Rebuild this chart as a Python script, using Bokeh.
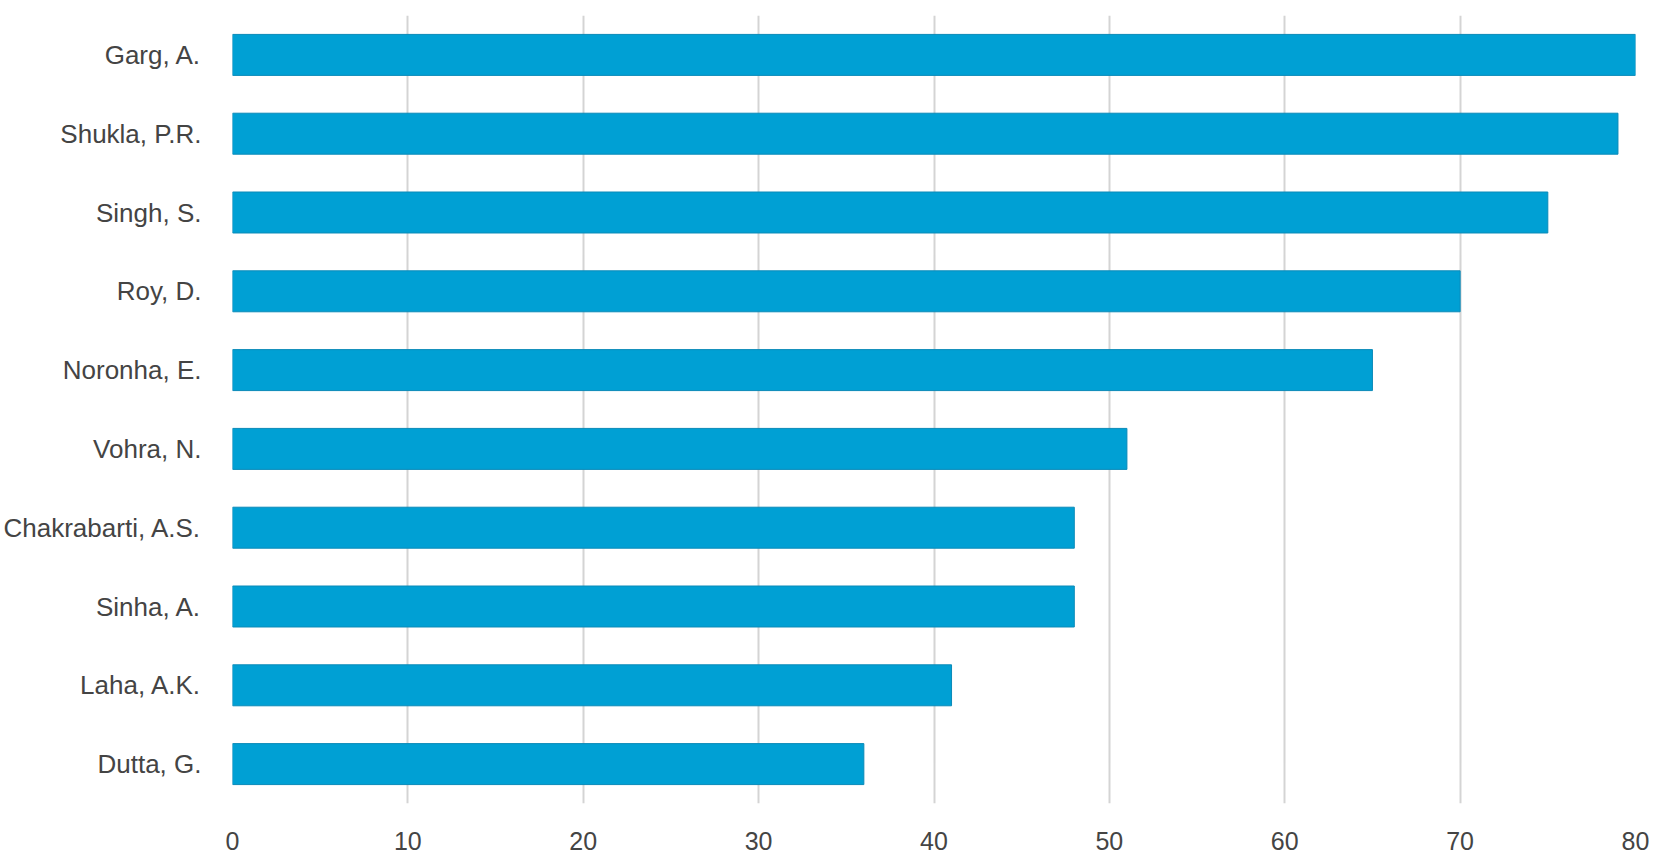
from bokeh.plotting import figure
from bokeh.models import ColumnDataSource, FixedTicker, Range1d
from bokeh.embed import file_html
from bokeh.resources import INLINE

authors = ["Garg, A.", "Shukla, P.R.", "Singh, S.", "Roy, D.", "Noronha, E.",
           "Vohra, N.", "Chakrabarti, A.S.", "Sinha, A.", "Laha, A.K.", "Dutta, G."]
counts = [80, 79, 75, 70, 65, 51, 48, 48, 41, 36]
x_ticks = [0, 10, 20, 30, 40, 50, 60, 70, 80]

src = ColumnDataSource(dict(author=authors, count=counts))

p = figure(y_range=list(reversed(authors)), x_range=Range1d(0, 80),
           width=1649, height=857, output_backend="svg", toolbar_location=None,
           min_border_left=231, min_border_right=14, min_border_top=15,
           min_border_bottom=54)

p.hbar(y="author", right="count", left=0, height=0.52, source=src,
       fill_color="#00a0d4", line_color="#0a8ab8", line_width=1)

p.outline_line_color = None
p.background_fill_color = "white"
p.border_fill_color = "white"

p.xaxis.ticker = FixedTicker(ticks=x_ticks)
p.xaxis.axis_line_color = None
p.xaxis.major_tick_line_color = None
p.xaxis.minor_tick_line_color = None
p.xaxis.major_label_standoff = 22
p.xaxis.major_label_text_font = "Liberation Sans"
p.xaxis.major_label_text_font_size = "25px"
p.xaxis.major_label_text_color = "#444444"

p.yaxis.axis_line_color = None
p.yaxis.major_tick_line_color = None
p.yaxis.minor_tick_line_color = None
p.yaxis.major_label_standoff = 25
p.yaxis.major_label_text_font = "Liberation Sans"
p.yaxis.major_label_text_font_size = "26px"
p.yaxis.major_label_text_color = "#444444"

p.xgrid.grid_line_color = "#d4d4d4"
p.xgrid.grid_line_width = 2
p.ygrid.grid_line_color = None

open("out.html", "w").write(file_html(p, INLINE))
